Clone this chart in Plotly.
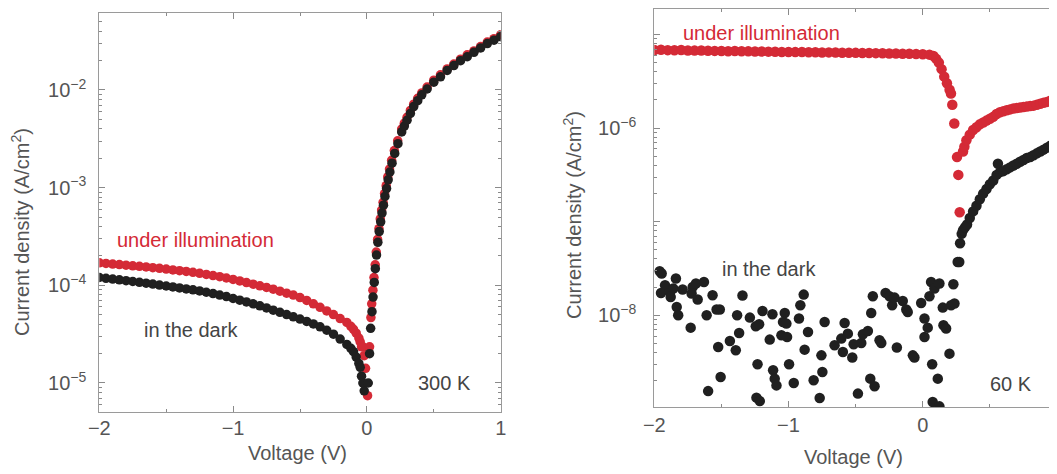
import numpy as np
import plotly.graph_objects as go

# ---------------- data ----------------
# 300 K, in the dark : voltage (V) and log10 of current density (A/cm^2)
v_dark_300 = [-2.00, -1.95, -1.90, -1.85, -1.80, -1.75, -1.70, -1.65, -1.60, -1.55,
              -1.50, -1.45, -1.40, -1.35, -1.30, -1.25, -1.20, -1.15, -1.10, -1.05,
              -1.00, -0.95, -0.90, -0.85, -0.80, -0.75, -0.70, -0.65, -0.60, -0.55,
              -0.50, -0.45, -0.40, -0.35, -0.30, -0.25, -0.20, -0.15, -0.12, -0.10,
              -0.08, -0.06, -0.05, -0.04, -0.03, -0.02,
              0.010, 0.020, 0.028, 0.038, 0.046, 0.055, 0.063, 0.072, 0.082, 0.092,
              0.103, 0.113, 0.124, 0.135, 0.147, 0.159, 0.172, 0.188, 0.208, 0.232,
              0.26, 0.28, 0.30, 0.325, 0.35, 0.38, 0.41, 0.45, 0.50, 0.55, 0.60,
              0.65, 0.70, 0.75, 0.80, 0.85, 0.90, 0.95, 1.00]
logj_dark_300 = [-3.920, -3.928, -3.936, -3.944, -3.953, -3.961, -3.969, -3.978, -3.987, -3.997,
                 -4.007, -4.017, -4.027, -4.037, -4.046, -4.058, -4.071, -4.085, -4.100, -4.115,
                 -4.135, -4.152, -4.170, -4.190, -4.210, -4.232, -4.254, -4.277, -4.300, -4.323,
                 -4.346, -4.370, -4.395, -4.425, -4.460, -4.500, -4.550, -4.605, -4.645, -4.680,
                 -4.735, -4.800, -4.840, -4.930, -5.000, -5.080,
                 -5.00, -4.70, -4.44, -4.27, -4.12, -3.97, -3.83, -3.69, -3.56, -3.45,
                 -3.35, -3.26, -3.18, -3.09, -3.01, -2.92, -2.84, -2.75, -2.65, -2.55,
                 -2.43, -2.37, -2.31, -2.24, -2.17, -2.11, -2.05, -1.99, -1.92, -1.865, -1.80,
                 -1.75, -1.70, -1.66, -1.615, -1.57, -1.525, -1.49, -1.455]

# 300 K, under illumination
v_illum_300 = [-2.00, -1.95, -1.90, -1.85, -1.80, -1.75, -1.70, -1.65, -1.60, -1.55,
               -1.50, -1.45, -1.40, -1.35, -1.30, -1.25, -1.20, -1.15, -1.10, -1.05,
               -1.00, -0.95, -0.90, -0.85, -0.80, -0.75, -0.70, -0.65, -0.60, -0.55,
               -0.50, -0.45, -0.40, -0.35, -0.30, -0.25, -0.20, -0.15, -0.12, -0.10,
               -0.08, -0.06, -0.05, -0.04, -0.03, -0.02, -0.01, 0.005,
               0.020, 0.030, 0.036, 0.045, 0.053, 0.062, 0.070, 0.080, 0.090, 0.100,
               0.110, 0.121, 0.132, 0.144, 0.156, 0.169, 0.185, 0.205, 0.23,
               0.26, 0.28, 0.30, 0.325, 0.35, 0.38, 0.41, 0.45, 0.50, 0.55, 0.60,
               0.65, 0.70, 0.75, 0.80, 0.85, 0.90, 0.95, 1.00]
logj_illum_300 = [-3.770, -3.776, -3.782, -3.788, -3.794, -3.800, -3.806, -3.812, -3.819, -3.826,
                  -3.834, -3.842, -3.850, -3.858, -3.867, -3.877, -3.888, -3.900, -3.912, -3.925,
                  -3.940, -3.955, -3.972, -3.988, -4.005, -4.022, -4.040, -4.060, -4.080, -4.100,
                  -4.125, -4.155, -4.190, -4.225, -4.262, -4.300, -4.340, -4.380, -4.420, -4.450,
                  -4.490, -4.540, -4.580, -4.630, -4.630, -4.720, -4.850, -5.130,
                  -4.63, -4.33, -4.19, -4.05, -3.92, -3.79, -3.66, -3.53, -3.42, -3.32,
                  -3.23, -3.15, -3.06, -2.98, -2.89, -2.81, -2.72, -2.62, -2.52,
                  -2.40, -2.34, -2.28, -2.21, -2.145, -2.085, -2.03, -1.97, -1.90, -1.845, -1.785,
                  -1.735, -1.685, -1.64, -1.60, -1.555, -1.51, -1.475, -1.435]

# 60 K, under illumination
v_illum_60 = [-2.00, -1.95, -1.90, -1.85, -1.80, -1.75, -1.70, -1.65, -1.60, -1.55,
              -1.50, -1.45, -1.40, -1.35, -1.30, -1.25, -1.20, -1.15, -1.10, -1.05,
              -1.00, -0.95, -0.90, -0.85, -0.80, -0.75, -0.70, -0.65, -0.60, -0.55,
              -0.50, -0.45, -0.40, -0.35, -0.30, -0.25, -0.20, -0.15, -0.10, -0.05,
              0.00, 0.05, 0.08, 0.10, 0.12, 0.14, 0.16, 0.18, 0.20, 0.21, 0.22,
              0.235, 0.255, 0.265, 0.275,
              0.300, 0.310, 0.325, 0.350, 0.375, 0.400, 0.425, 0.450, 0.475, 0.500,
              0.525, 0.550, 0.575, 0.600, 0.625, 0.650, 0.675, 0.700, 0.725, 0.750,
              0.775, 0.800, 0.825, 0.850, 0.875, 0.900, 0.925, 0.950, 0.975, 1.000]
logj_illum_60 = [-5.165, -5.163, -5.167, -5.168, -5.166, -5.170, -5.172, -5.171, -5.174, -5.175,
                 -5.176, -5.178, -5.177, -5.179, -5.180, -5.182, -5.181, -5.183, -5.184, -5.186,
                 -5.186, -5.188, -5.187, -5.189, -5.190, -5.192, -5.191, -5.193, -5.195, -5.194,
                 -5.196, -5.198, -5.197, -5.199, -5.201, -5.202, -5.203, -5.205, -5.206, -5.208,
                 -5.210, -5.215, -5.230, -5.260, -5.300, -5.370, -5.450, -5.520, -5.590, -5.630, -5.750,
                 -5.950, -6.310, -6.500, -6.900,
                 -6.25, -6.20, -6.13, -6.07, -6.02, -5.99, -5.96, -5.94, -5.92, -5.90,
                 -5.88, -5.85, -5.83, -5.82, -5.81, -5.80, -5.79, -5.785, -5.78, -5.775,
                 -5.77, -5.765, -5.76, -5.75, -5.74, -5.73, -5.72, -5.71, -5.70, -5.69]

# 60 K, in the dark (scattered reverse branch + forward branch)
v_dark_60 = [-1.945, -1.960, -1.920, -1.950, -1.883, -1.859, -1.878, -1.839, -1.789, -1.833,
             -1.822, -1.729, -1.714, -1.690, -1.630, -1.722, -1.677, -1.566, -1.610, -1.536,
             -1.512, -1.524, -1.506, -1.599, -1.437, -1.393, -1.368, -1.383, -1.343, -1.288,
             -1.244, -1.219, -1.194, -1.231, -1.239, -1.214, -1.140, -1.120, -1.115, -1.103,
             -1.090, -1.053, -1.028, -1.041, -1.016, -1.011, -0.996, -0.961, -0.887, -0.912,
             -0.922, -0.880, -0.855, -0.813, -0.768, -0.755, -0.748, -0.731, -0.657, -0.607,
             -0.595, -0.582, -0.558, -0.525, -0.515, -0.483, -0.458, -0.446, -0.409, -0.391,
             -0.359, -0.372, -0.384, -0.322, -0.309, -0.277, -0.248, -0.228, -0.210, -0.193,
             -0.149, -0.123, -0.112, -0.074, -0.062, -0.012, 0.013, 0.037, 0.013, 0.050,
             0.062, 0.087, 0.124, 0.070, 0.112, 0.074, 0.124, 0.149, 0.154, 0.174,
             0.199, 0.211, 0.236, 0.228, 0.260,
             0.272, 0.278, 0.290, 0.300, 0.315, 0.330, 0.350, 0.375, 0.400, 0.425,
             0.450, 0.475, 0.500, 0.525, 0.550, 0.560, 0.575, 0.600, 0.625, 0.650,
             0.675, 0.700, 0.725, 0.750, 0.775, 0.800, 0.825, 0.850, 0.875, 0.900,
             0.925, 0.950, 0.975, 1.000]
logj_dark_60 = [-7.554, -7.530, -7.679, -7.762, -7.751, -7.714, -7.804, -7.607, -7.725, -7.911,
                -8.000, -8.132, -7.697, -7.661, -7.644, -7.768, -7.832, -7.786, -8.000, -7.939,
                -7.939, -8.339, -8.660, -8.810, -8.275, -8.374, -8.189, -8.000, -7.789, -8.025,
                -8.118, -8.096, -7.954, -8.524, -8.880, -8.917, -8.260, -7.989, -8.588, -8.677,
                -8.749, -8.214, -7.975, -8.072, -8.089, -8.232, -8.524, -8.724, -7.779, -7.893,
                -8.035, -8.367, -8.179, -8.695, -8.884, -8.428, -8.606, -8.072, -8.321, -8.249,
                -8.393, -8.082, -8.196, -8.452, -8.310, -8.837, -8.296, -8.203, -8.168, -8.677,
                -8.759, -7.797, -7.975, -8.267, -8.296, -7.761, -7.797, -7.893, -7.811, -8.345,
                -7.847, -7.939, -7.965, -8.428, -8.452, -7.868, -8.035, -8.132, -8.232, -7.797,
                -7.644, -7.714, -7.661, -8.524, -8.677, -8.927, -8.973, -7.918, -8.107, -8.142,
                -8.410, -7.893, -7.875, -7.668, -7.430,
                -7.43, -7.23, -7.13, -7.09, -7.06, -7.03, -6.96, -6.89, -6.83, -6.76,
                -6.70, -6.65, -6.60, -6.56, -6.50, -6.38, -6.47, -6.46, -6.44, -6.42,
                -6.40, -6.38, -6.36, -6.34, -6.32, -6.31, -6.29, -6.27, -6.25, -6.23,
                -6.21, -6.19, -6.17, -6.16]

x_tick_vals = [-2, -1, 0, 1]
x_tick_text = ["\u22122", "\u22121", "0", "1"]
x_minor_vals = [-1.5, -0.5, 0.5]
y_ticks_300 = [1e-5, 1e-4, 1e-3, 1e-2]
y_text_300 = ["10<sup>\u22125</sup>", "10<sup>\u22124</sup>", "10<sup>\u22123</sup>", "10<sup>\u22122</sup>"]
y_ticks_60 = [1e-8, 1e-7, 1e-6, 1e-5]
y_text_60 = ["10<sup>\u22128</sup>", "", "10<sup>\u22126</sup>", ""]

# ---------------- styling ----------------
RED = "rgb(212,42,54)"
DARK = "rgb(32,32,32)"
GRAY_TXT = "#555555"
FONT = "Liberation Sans, Arial, Helvetica, sans-serif"
# the page body keeps its default 8 px margin, so the figure is drawn at (8, 8)
OFF = 8
W, H = 1057 - OFF, 474 - OFF

def px_x(p):
    return (p - OFF) / W

def px_y(p):
    return 1 - (p - OFF) / H

fig = go.Figure()

def add_series(v, logj, color, xa, ya, size):
    fig.add_trace(go.Scatter(x=v, y=10 ** np.array(logj), mode="markers",
                             marker=dict(color=color, size=size, line=dict(width=0)),
                             xaxis=xa, yaxis=ya, showlegend=False, cliponaxis=True))

add_series(v_illum_300, logj_illum_300, RED, "x", "y", 9.5)
add_series(v_dark_300, logj_dark_300, DARK, "x", "y", 9.5)
add_series(v_illum_60, logj_illum_60, RED, "x2", "y2", 10.5)
add_series(v_dark_60, logj_dark_60, DARK, "x2", "y2", 10.5)

def minor_log(lo, hi):
    return [k * 10.0 ** d for d in range(lo, hi) for k in range(2, 10)]

axis_common = dict(showline=True, linecolor="#9a9a9a", linewidth=1, mirror="allticks",
                   ticks="inside", ticklen=6, tickcolor="#8a8a8a", tickwidth=1,
                   showgrid=False, zeroline=False, automargin=False,
                   tickfont=dict(family=FONT, size=20, color=GRAY_TXT))

minor_style = dict(ticks="inside", ticklen=3, tickcolor="#8a8a8a", showgrid=False)

# top of the right panel sits at y=7 in the reference; clamp to the drawable area
right_top = max(7, OFF + 1)
right_bottom = 407
# keep the same log scale: shift the upper range value by the clipped pixels
right_ymax = -4.706 - (right_top - 7) / 93.5

fig.update_layout(
    template="none",
    width=W, height=H, margin=dict(l=0, r=0, t=0, b=0, pad=0),
    paper_bgcolor="white", plot_bgcolor="white",
    xaxis=dict(domain=[px_x(99.3), px_x(500.7)], range=[-2, 1], anchor="y",
               tickmode="array", tickvals=x_tick_vals, ticktext=x_tick_text,
               minor=dict(tickmode="array", tickvals=x_minor_vals, **minor_style),
               ticklabelstandoff=-2, **axis_common),
    yaxis=dict(domain=[px_y(412), px_y(13)], type="log", range=[-5.297, -1.212], anchor="x",
               tickmode="array", tickvals=y_ticks_300, ticktext=y_text_300,
               minor=dict(tickmode="array", tickvals=minor_log(-6, -1), **minor_style),
               ticklabelstandoff=8, **axis_common),
    xaxis2=dict(domain=[px_x(654.3), 1.0], range=[-2, 1.0], anchor="y2",
                tickmode="array", tickvals=x_tick_vals, ticktext=x_tick_text,
                minor=dict(tickmode="array", tickvals=x_minor_vals, **minor_style),
                ticklabelstandoff=0, ticklabeloverflow="allow", **axis_common),
    yaxis2=dict(domain=[px_y(right_bottom), px_y(right_top)], type="log",
                range=[-8.98, right_ymax], anchor="x2",
                tickmode="array", tickvals=y_ticks_60, ticktext=y_text_60,
                minor=dict(tickmode="array", tickvals=minor_log(-10, -4), **minor_style),
                ticklabelstandoff=13, **axis_common),
)

def note(text, x, y, color, size=20, angle=0):
    fig.add_annotation(text=text, x=px_x(x), y=px_y(y), xref="paper", yref="paper",
                       showarrow=False, xanchor="center", yanchor="middle", textangle=angle,
                       font=dict(family=FONT, size=size, color=color))

note("under illumination", 195, 240, RED)
note("in the dark", 191, 330, "#444444")
note("300 K", 444, 383, "#444444")
note("under illumination", 761, 33, RED)
note("in the dark", 769, 269, "#444444")
note("60 K", 1011, 384, "#444444")
note("Current density (A/cm<sup>2</sup>)", 21, 232, GRAY_TXT, 20, -90)
note("Current density (A/cm<sup>2</sup>)", 572, 215, GRAY_TXT, 20, -90)
note("Voltage (V)", 297, 453, GRAY_TXT, 20)
note("Voltage (V)", 853, 457, GRAY_TXT, 20)

fig.write_html("out.html")
